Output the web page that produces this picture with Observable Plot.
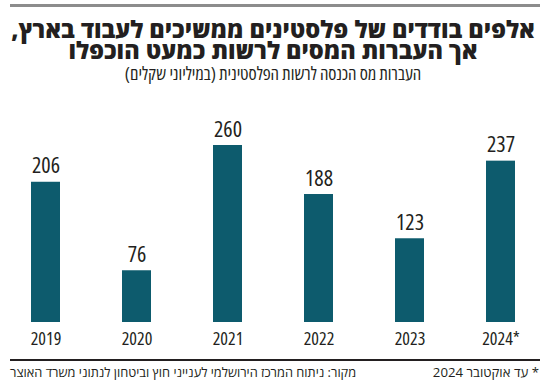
<!DOCTYPE html>
<html lang="he">
<head>
<meta charset="utf-8">
<script src="https://cdn.jsdelivr.net/npm/d3@7"></script>
<script src="https://cdn.jsdelivr.net/npm/@observablehq/plot@0.6"></script>
<style>
  html, body { margin: 0; padding: 0; background: #fff; }
  body { width: 550px; height: 384px; position: relative; overflow: hidden;
         font-family: "Open Sans", sans-serif; font-stretch: 75%; color: #231f20; }
  .topline { position: absolute; left: 10px; width: 530px; top: 4px; height: 3px; background: #8c8c8c; }
  .title { position: absolute; left: 0; width: 546px; top: 19px; text-align: center; direction: rtl;
           font-size: 23.5px; line-height: 21px; font-weight: 800; font-stretch: 100%; }
  .subtitle { position: absolute; left: 0; width: 546px; top: 63px; text-align: center; direction: rtl;
              font-size: 18px; line-height: 20px; }
  #chart { position: absolute; left: 0; top: 90px; }
  .bottomline { position: absolute; left: 10px; width: 530px; top: 359px; height: 1.5px; background: #231f20; }
  .source { position: absolute; left: 10px; top: 364px; direction: rtl; font-size: 12.8px; line-height: 16px; white-space: nowrap; font-stretch: 100%; }
  .note { position: absolute; right: 11px; top: 364px; direction: rtl; font-size: 13.2px; line-height: 16px; white-space: nowrap; font-stretch: 100%; }
  #chart text { font-stretch: 75%; }
</style>
</head>
<body>
<div class="topline"></div>
<div class="title">אלפים בודדים של פלסטינים ממשיכים לעבוד בארץ,<br>אך העברות המסים לרשות כמעט הוכפלו</div>
<div class="subtitle">העברות מס הכנסה לרשות הפלסטינית (במיליוני שקלים)</div>
<div id="chart"></div>
<div class="bottomline"></div>
<div class="source">מקור: ניתוח המרכז הירושלמי לענייני חוץ וביטחון לנתוני משרד האוצר</div>
<div class="note">* עד אוקטובר 2024</div>
<script>
const years = ["2019", "2020", "2021", "2022", "2023", "2024*"];
const values = [206, 76, 260, 188, 123, 237];

const data = years.map((year, i) => ({year, value: values[i]}));

const chart = Plot.plot({
  width: 550,
  height: 260,
  marginLeft: 0,
  marginRight: 4,
  marginTop: 55,
  marginBottom: 28,
  style: {fontFamily: "'Open Sans', sans-serif", color: "#231f20", background: "transparent"},
  x: {domain: years, paddingInner: 0.684, paddingOuter: 0.316},
  y: {domain: [0, 260], axis: null},
  marks: [
    Plot.barY(data, {x: "year", y: "value", fill: "#0d5b6d"}),
    Plot.text(data, {x: "year", y: "value", text: d => String(d.value), dy: -16, fontSize: 22, fill: "#231f20"}),
    Plot.axisX({tickSize: 0, tickPadding: 10, fontSize: 18, label: null, color: "#231f20"})
  ]
});
document.getElementById("chart").appendChild(chart);
</script>
</body>
</html>
